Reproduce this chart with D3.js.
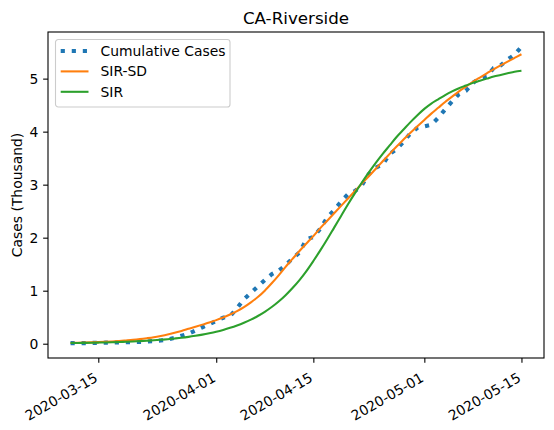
<!DOCTYPE html>
<html>
<head>
<meta charset="utf-8">
<script src="https://cdn.jsdelivr.net/npm/d3@7"></script>
<style>
  body { margin: 0; background: #fff; }
  text { font-family: "DejaVu Sans", sans-serif; }
</style>
</head>
<body>
<svg id="chart" width="554" height="430"></svg>
<script>
// daily dates, Mar 11 .. May 15 2020
var startDate = '2020-03-11';
var endDate = '2020-05-16';
var dates = d3.utcDay.range(new Date(startDate), new Date(endDate));

// cumulative cases (thousand)
var cumulative = [
	0.010, 0.011, 0.012, 0.015, 0.017, 0.019, 0.021, 0.025, 0.028, 0.031,
	0.035, 0.040, 0.050, 0.060, 0.080, 0.110, 0.150, 0.190, 0.250, 0.310,
	0.370, 0.430, 0.490, 0.520, 0.670, 0.840, 0.960, 1.080, 1.200, 1.310,
	1.380, 1.480, 1.610, 1.720, 1.970, 2.010, 2.170, 2.380, 2.520, 2.680,
	2.820, 2.880, 2.990, 3.200, 3.320, 3.380, 3.580, 3.670, 3.810, 3.970,
	4.070, 4.100, 4.130, 4.260, 4.420, 4.570, 4.710, 4.770, 4.920, 5.010,
	5.040, 5.200, 5.250, 5.360, 5.450, 5.600,
];

// SIR-SD model
var sirSd = [
	0.015, 0.018, 0.021, 0.025, 0.030, 0.036, 0.043, 0.051, 0.061, 0.072,
	0.086, 0.103, 0.122, 0.146, 0.173, 0.205, 0.240, 0.280, 0.320, 0.360,
	0.400, 0.445, 0.495, 0.550, 0.615, 0.690, 0.780, 0.880, 1.000, 1.140,
	1.290, 1.450, 1.600, 1.750, 1.890, 2.030, 2.180, 2.320, 2.460, 2.600,
	2.740, 2.880, 3.020, 3.160, 3.300, 3.440, 3.580, 3.720, 3.850, 3.980,
	4.100, 4.220, 4.340, 4.450, 4.560, 4.660, 4.760, 4.850, 4.940, 5.020,
	5.100, 5.180, 5.250, 5.320, 5.390, 5.460,
];

// SIR model
var sir = [
	0.012, 0.014, 0.016, 0.018, 0.021, 0.024, 0.028, 0.032, 0.037, 0.042,
	0.049, 0.056, 0.064, 0.074, 0.085, 0.098, 0.112, 0.129, 0.149, 0.171,
	0.197, 0.226, 0.260, 0.299, 0.344, 0.396, 0.455, 0.523, 0.602, 0.692,
	0.796, 0.915, 1.050, 1.200, 1.370, 1.560, 1.760, 1.970, 2.190, 2.410,
	2.630, 2.840, 3.040, 3.230, 3.410, 3.580, 3.740, 3.900, 4.040, 4.180,
	4.310, 4.430, 4.530, 4.610, 4.690, 4.760, 4.820, 4.870, 4.920, 4.960,
	5.000, 5.040, 5.070, 5.100, 5.130, 5.150,
];

var xTicks = ['2020-03-15', '2020-04-01', '2020-04-15', '2020-05-01', '2020-05-15'];
var yTicks = [0, 1, 2, 3, 4, 5];

var seriesNames = ['Cumulative Cases', 'SIR-SD', 'SIR'];
var seriesColors = ['#1f77b4', '#ff7f0e', '#2ca02c'];

var margin = { left: 48, top: 32, right: 10, bottom: 72 };
var W = 554, H = 430;
var innerW = W - margin.left - margin.right;
var innerH = H - margin.top - margin.bottom;

var svg = d3.select('#chart');
var g = svg.append('g').attr('transform', 'translate(' + margin.left + ',' + margin.top + ')');

// matplotlib style 5% padding
var xExt = d3.extent(dates, function(d) { return +d; });
var xPad = (xExt[1] - xExt[0]) * 0.05;
var x = d3.scaleUtc()
	.domain([new Date(xExt[0] - xPad), new Date(xExt[1] + xPad)])
	.range([0, innerW]);

var all = cumulative.concat(sirSd, sir);
var yMin = d3.min(all), yMax = d3.max(all);
var yPad = (yMax - yMin) * 0.05;
var y = d3.scaleLinear().domain([yMin - yPad, yMax + yPad]).range([innerH, 0]);

var tickLen = 4.86;

var line = d3.line()
	.x(function(d, i) { return x(dates[i]); })
	.y(function(d) { return y(d); });

var smooth = d3.line()
	.x(function(d, i) { return x(dates[i]); })
	.y(function(d) { return y(d); })
	.curve(d3.curveMonotoneX);

// lines
g.append('path')
	.datum(cumulative)
	.attr('fill', 'none')
	.attr('stroke', seriesColors[0])
	.attr('stroke-width', 4.17)
	.attr('stroke-dasharray', '4.17,6.88')
	.attr('d', line);

g.append('path')
	.datum(sirSd)
	.attr('fill', 'none')
	.attr('stroke', seriesColors[1])
	.attr('stroke-width', 2.08)
	.attr('d', smooth);

g.append('path')
	.datum(sir)
	.attr('fill', 'none')
	.attr('stroke', seriesColors[2])
	.attr('stroke-width', 2.08)
	.attr('d', smooth);

// axes
var parse = d3.utcParse('%Y-%m-%d');
var xAxis = d3.axisBottom(x)
	.tickValues(xTicks.map(parse))
	.tickSize(tickLen)
	.tickFormat(d3.utcFormat('%Y-%m-%d'));

var xg = g.append('g')
	.attr('transform', 'translate(0,' + innerH + ')')
	.call(xAxis);
xg.select('.domain').remove();
xg.selectAll('line').attr('stroke', '#000').attr('stroke-width', 1.1);
xg.selectAll('text')
	.attr('font-size', '13.9px')
	.attr('fill', '#000')
	.attr('text-anchor', 'end')
	.attr('x', -6.5)
	.attr('y', 0)
	.attr('dy', '0.8em')
	.attr('transform', 'translate(0,' + (tickLen + 4.86) + ') rotate(-30)');

var yAxis = d3.axisLeft(y)
	.tickValues(yTicks)
	.tickSize(tickLen)
	.tickPadding(4.86)
	.tickFormat(d3.format('d'));

var yg = g.append('g').call(yAxis);
yg.select('.domain').remove();
yg.selectAll('line').attr('stroke', '#000').attr('stroke-width', 1.1);
yg.selectAll('text').attr('font-size', '13.9px').attr('fill', '#000');

// frame
g.append('rect')
	.attr('width', innerW)
	.attr('height', innerH)
	.attr('fill', 'none')
	.attr('stroke', '#000')
	.attr('stroke-width', 1.1);

// title and label
svg.append('text')
	.attr('x', margin.left + innerW / 2)
	.attr('y', margin.top - 8.3)
	.attr('text-anchor', 'middle')
	.attr('font-size', '16.7px')
	.text('CA-Riverside');

svg.append('text')
	.attr('transform', 'translate(22,' + (margin.top + innerH / 2) + ') rotate(-90)')
	.attr('text-anchor', 'middle')
	.attr('font-size', '13.9px')
	.text('Cases (Thousand)');

// legend
var lg = g.append('g').attr('transform', 'translate(7.5,7.5)');
lg.append('rect')
	.attr('width', 174.5)
	.attr('height', 67.5)
	.attr('rx', 2.8)
	.attr('fill', 'rgba(255,255,255,0.8)')
	.attr('stroke', '#cccccc')
	.attr('stroke-width', 1.1);

var rows = lg.selectAll('g.row')
	.data(seriesNames)
	.enter()
	.append('g')
	.attr('class', 'row')
	.attr('transform', function(d, i) { return 'translate(0,' + (11.5 + i * 20.4) + ')'; });

rows.append('line')
	.attr('x1', 5.2)
	.attr('x2', 33)
	.attr('stroke', function(d, i) { return seriesColors[i]; })
	.attr('stroke-width', function(d, i) { return i === 0 ? 4.17 : 2.08; })
	.attr('stroke-dasharray', function(d, i) { return i === 0 ? '4.17,6.88' : null; });

rows.append('text')
	.attr('x', 45)
	.attr('dy', '0.36em')
	.attr('font-size', '13.9px')
	.text(function(d) { return d; });
</script>
</body>
</html>
